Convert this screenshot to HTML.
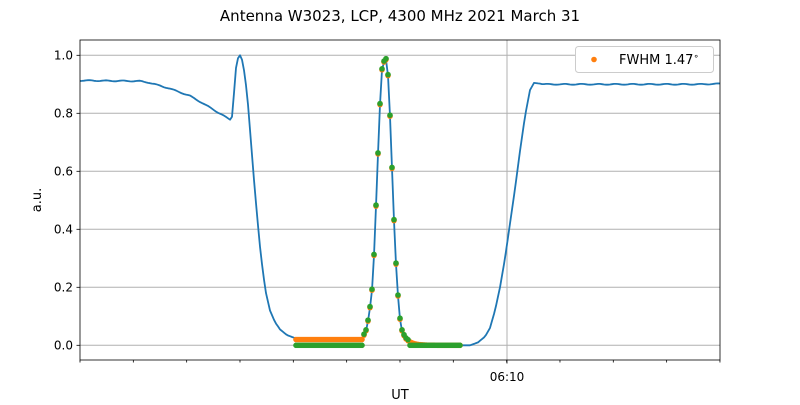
<!DOCTYPE html>
<html><head><meta charset="utf-8"><style>
body{margin:0;background:#fff;font-family:"Liberation Sans","DejaVu Sans",sans-serif}
</style></head><body>
<svg id="s" width="800" height="400" xmlns="http://www.w3.org/2000/svg" font-family="DejaVu Sans, Liberation Sans, sans-serif">
<text x="400" y="21" font-size="15" text-anchor="middle">Antenna W3023, LCP, 4300 MHz 2021 March 31</text>
<g stroke="#b0b0b0" stroke-width="1">
<line x1="80" x2="720" y1="345.3" y2="345.3"/><line x1="80" x2="720" y1="287.3" y2="287.3"/>
<line x1="80" x2="720" y1="229.3" y2="229.3"/><line x1="80" x2="720" y1="171.3" y2="171.3"/>
<line x1="80" x2="720" y1="113.3" y2="113.3"/><line x1="80" x2="720" y1="55.3" y2="55.3"/>
<line x1="507" x2="507" y1="40" y2="360"/>
</g>
<g font-size="12" text-anchor="end" fill="#000">
<text x="73" y="349.5">0.0</text><text x="73" y="291.5">0.2</text><text x="73" y="233.5">0.4</text>
<text x="73" y="175.5">0.6</text><text x="73" y="117.5">0.8</text><text x="73" y="59.5">1.0</text>
</g>
<g stroke="#000" stroke-width="0.8" id="ticks">
<line x1="76.5" x2="80" y1="345.3" y2="345.3"/><line x1="76.5" x2="80" y1="287.3" y2="287.3"/><line x1="76.5" x2="80" y1="229.3" y2="229.3"/><line x1="76.5" x2="80" y1="171.3" y2="171.3"/><line x1="76.5" x2="80" y1="113.3" y2="113.3"/><line x1="76.5" x2="80" y1="55.3" y2="55.3"/>
<line x1="507" x2="507" y1="360" y2="363.5"/>
</g>
<text x="507" y="381" font-size="12" text-anchor="middle">06:10</text>
<text x="400" y="399" font-size="13" text-anchor="middle">UT</text>
<text transform="translate(41,200) rotate(-90)" font-size="13" text-anchor="middle">a.u.</text>
<polyline id="blue" fill="none" stroke="#1f77b4" stroke-width="1.8" stroke-linejoin="round"/>
<g id="dots"></g>
<rect x="80" y="40" width="640" height="320" fill="none" stroke="#000" stroke-width="0.8"/>
<rect x="575.5" y="46.5" width="138" height="26" rx="3" fill="#fff" stroke="#ccc"/>
<circle cx="594" cy="59.5" r="2.8" fill="#ff7f0e"/>
<text x="619" y="64" font-size="13">FWHM 1.47<tspan font-size="9" dy="-5">∘</tspan></text>
</svg>
<script>
var Y=v=>345.3-v*290;
var k=[[80,.913],[140,.911],[150,.905],[170,.885],[190,.86],[210,.82],[229,.78],[231,.776],[233,.8],[235,.94],[238,.99],[240,1],[242,.985],[245,.93],[248,.83],[251,.7],[254,.57],[257,.45],[260,.34],[263,.25],[266,.18],[270,.12],[275,.08],[280,.055],[287,.035],[295,.025],[320,.02],[345,.02],[362,.02],[366,.05],[369,.1],[372,.19],[374,.31],[376,.48],[378,.66],[380,.83],[382,.95],[385,.99],[387,.98],[388,.93],[390,.79],[392,.61],[394,.43],[396,.28],[398,.17],[400,.09],[402,.05],[405,.025],[410,.01],[418,.003],[425,0],[470,0],[478,.01],[485,.03],[490,.06],[495,.12],[500,.2],[505,.3],[510,.42],[515,.54],[520,.67],[525,.79],[530,.88],[534,.905],[545,.9],[560,.9],[600,.9],[650,.9],[700,.9],[720,.902]];
function f(x){for(var i=1;i<k.length;i++)if(x<=k[i][0]){var a=k[i-1],b=k[i];return a[1]+(b[1]-a[1])*(x-a[0])/(b[0]-a[0]);}return k[k.length-1][1];}
var p=[];for(var x=80;x<=720;x+=2){var v=f(x);if(x<230||x>540)v+=Math.sin(x*0.37)*0.0015;p.push(x+","+Y(v).toFixed(1));}
document.getElementById("blue").setAttribute("points",p.join(" "));
var o="",g="";
for(var x=296;x<=362;x+=2){o+='<circle cx="'+x+'" cy="'+Y(.02)+'" r="2.8" fill="#ff7f0e"/>';g+='<circle cx="'+x+'" cy="'+Y(0)+'" r="2.8" fill="#2ca02c"/>';}
var pk=[364,366,368,370,372,374,376,378,380,382,384,386,388,390,392,394,396,398,400,402,404,406,408];
pk.forEach(function(x){var v=f(x);o+='<circle cx="'+x+'" cy="'+Y(v)+'" r="2.8" fill="#ff7f0e"/>';g+='<circle cx="'+x+'" cy="'+(Y(v)-1)+'" r="2.8" fill="#2ca02c"/>';});
for(var x=410;x<=460;x+=2){var v=Math.max(0,0.012*Math.exp(-(x-410)/6));o+='<circle cx="'+x+'" cy="'+Y(v)+'" r="2.8" fill="#ff7f0e"/>';g+='<circle cx="'+x+'" cy="'+Y(0)+'" r="2.8" fill="#2ca02c"/>';}
document.getElementById("dots").innerHTML=o+g;
var t="";for(var i=0;i<=12;i++){var x=80+i*53.33;t+='<line x1="'+x+'" x2="'+x+'" y1="360" y2="362.5"/>';}
document.getElementById("ticks").innerHTML+=t;
</script>
</body></html>
